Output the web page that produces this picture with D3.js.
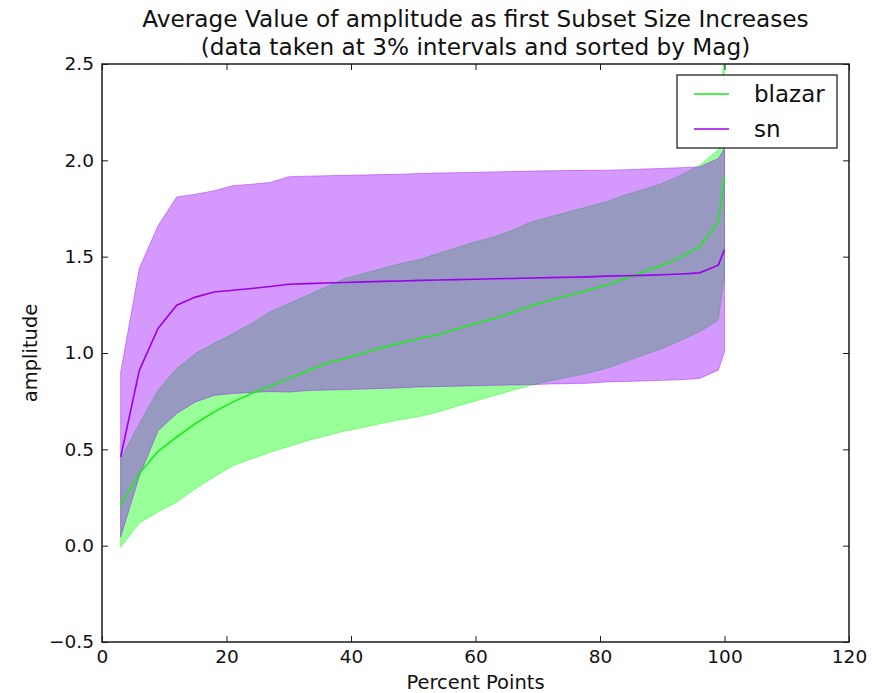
<!DOCTYPE html>
<html>
<head>
<meta charset="utf-8">
<script src="https://cdn.jsdelivr.net/npm/d3@7"></script>
<style>
  body { margin: 0; background: #fff; }
  svg { display: block; font-family: "DejaVu Sans", sans-serif; }
</style>
</head>
<body>
<div id="vis"></div>
<script>
const FRAME_WIDTH = 872;
const FRAME_HEIGHT = 693;
const MARGINS = {left: 102, right: 23, top: 64, bottom: 51};

// percent points where the data was taken
const pct = [3, 6, 9, 12, 15, 18, 21, 24, 27, 30, 33, 36, 39, 42, 45, 48, 51,
             54, 57, 60, 63, 66, 69, 72, 75, 78, 81, 84, 87, 90, 93, 96, 99, 100];

// blazar: mean and band
const blazarMean = [0.21, 0.374, 0.49, 0.564, 0.634, 0.694, 0.745, 0.79, 0.828, 0.867, 0.907, 0.945, 0.971, 1.0, 1.028, 1.052, 1.075,
                    1.095, 1.125, 1.153, 1.179, 1.21, 1.245, 1.274, 1.30, 1.326, 1.352, 1.387, 1.421, 1.456, 1.499, 1.551, 1.681, 1.914];
const blazarHi = [0.45, 0.634, 0.807, 0.92, 0.997, 1.05, 1.10, 1.153, 1.213, 1.257, 1.30, 1.343, 1.387, 1.413, 1.439, 1.465, 1.485,
                  1.517, 1.548, 1.577, 1.603, 1.638, 1.681, 1.707, 1.733, 1.759, 1.785, 1.82, 1.849, 1.88, 1.923, 1.975, 2.053, 2.62];
const blazarLo = [-0.007, 0.118, 0.175, 0.227, 0.296, 0.357, 0.415, 0.45, 0.485, 0.515, 0.545, 0.57, 0.595, 0.615, 0.635, 0.655, 0.67,
                  0.694, 0.724, 0.751, 0.78, 0.807, 0.833, 0.855, 0.875, 0.895, 0.92, 0.954, 0.989, 1.023, 1.066, 1.11, 1.17, 1.40];

// sn: mean and band
const snMean = [0.46, 0.91, 1.127, 1.248, 1.29, 1.317, 1.326, 1.335, 1.345, 1.357, 1.36, 1.363, 1.366, 1.369, 1.372, 1.374, 1.377,
                1.379, 1.381, 1.383, 1.385, 1.387, 1.389, 1.391, 1.393, 1.395, 1.399, 1.401, 1.403, 1.406, 1.41, 1.416, 1.456, 1.537];
const snHi = [0.90, 1.44, 1.66, 1.81, 1.824, 1.842, 1.868, 1.876, 1.885, 1.915, 1.918, 1.92, 1.922, 1.924, 1.926, 1.928, 1.932,
              1.934, 1.936, 1.938, 1.94, 1.942, 1.944, 1.946, 1.947, 1.948, 1.949, 1.951, 1.955, 1.958, 1.962, 1.966, 2.01, 2.06];
const snLo = [0.045, 0.36, 0.596, 0.686, 0.746, 0.78, 0.79, 0.795, 0.80, 0.797, 0.805, 0.808, 0.81, 0.813, 0.816, 0.819, 0.824,
              0.826, 0.828, 0.83, 0.832, 0.834, 0.836, 0.839, 0.841, 0.843, 0.85, 0.852, 0.855, 0.858, 0.861, 0.868, 0.911, 1.006];

const xTicks = [0, 20, 40, 60, 80, 100, 120];
const yTicks = [-0.5, 0.0, 0.5, 1.0, 1.5, 2.0, 2.5];

const seriesNames = ['blazar', 'sn'];
const lineColors = ['#1aee1a', '#9a00ee'];
const fillColors = ['#00ff00', '#9600fa'];

const VIS_WIDTH = FRAME_WIDTH - MARGINS.left - MARGINS.right;
const VIS_HEIGHT = FRAME_HEIGHT - MARGINS.top - MARGINS.bottom;

const FRAME = d3.select('#vis')
    .append('svg')
        .attr('width', FRAME_WIDTH)
        .attr('height', FRAME_HEIGHT);

const X_SCALE = d3.scaleLinear().domain([0, 120]).range([0, VIS_WIDTH]);
const Y_SCALE = d3.scaleLinear().domain([-0.5, 2.5]).range([VIS_HEIGHT, 0]);

const plot = FRAME.append('g')
    .attr('transform', 'translate(' + MARGINS.left + ',' + MARGINS.top + ')');

plot.append('clipPath').attr('id', 'clip')
    .append('rect').attr('width', VIS_WIDTH).attr('height', VIS_HEIGHT);

const marks = plot.append('g').attr('clip-path', 'url(#clip)');

const bands = [
    pct.map((p, i) => ({x: p, lo: blazarLo[i], hi: blazarHi[i]})),
    pct.map((p, i) => ({x: p, lo: snLo[i], hi: snHi[i]}))
];
const means = [
    pct.map((p, i) => ({x: p, y: blazarMean[i]})),
    pct.map((p, i) => ({x: p, y: snMean[i]}))
];

const area = d3.area()
    .x(d => X_SCALE(d.x))
    .y0(d => Y_SCALE(d.lo))
    .y1(d => Y_SCALE(d.hi));

const line = d3.line()
    .x(d => X_SCALE(d.x))
    .y(d => Y_SCALE(d.y));

// filled bands (blazar first, sn over it)
bands.forEach((b, i) => {
    marks.append('path')
        .datum(b)
        .attr('d', area)
        .attr('fill', fillColors[i])
        .attr('fill-opacity', 0.4)
        .attr('stroke', fillColors[i])
        .attr('stroke-opacity', 0.4)
        .attr('stroke-width', 1);
});

// mean lines
means.forEach((m, i) => {
    marks.append('path')
        .datum(m)
        .attr('d', line)
        .attr('fill', 'none')
        .attr('stroke', lineColors[i])
        .attr('stroke-width', 1.6);
});

// axes, ticks point inwards on all four sides
const axisColor = '#1a1a1a';
function styleAxis(g) {
    g.select('.domain').remove();
    g.selectAll('line').attr('stroke', axisColor).attr('stroke-width', 1);
    g.selectAll('text').attr('fill', '#111').attr('font-size', '18.5px')
        .attr('font-family', '"DejaVu Sans", sans-serif');
}

plot.append('g')
    .attr('transform', 'translate(0,' + VIS_HEIGHT + ')')
    .call(d3.axisBottom(X_SCALE).tickValues(xTicks).tickFormat(d3.format('d')).tickSize(-6).tickSizeOuter(0).tickPadding(8))
    .call(styleAxis);

plot.append('g')
    .call(d3.axisLeft(Y_SCALE).tickValues(yTicks).tickFormat(d => (d < 0 ? '\u2212' : '') + Math.abs(d).toFixed(1)).tickSize(-6).tickSizeOuter(0).tickPadding(8))
    .call(styleAxis);

plot.append('g')
    .call(d3.axisTop(X_SCALE).tickValues(xTicks).tickFormat('').tickSize(-6).tickSizeOuter(0))
    .call(styleAxis);

plot.append('g')
    .attr('transform', 'translate(' + VIS_WIDTH + ',0)')
    .call(d3.axisRight(Y_SCALE).tickValues(yTicks).tickFormat('').tickSize(-6).tickSizeOuter(0))
    .call(styleAxis);

// frame
plot.append('rect')
    .attr('width', VIS_WIDTH)
    .attr('height', VIS_HEIGHT)
    .attr('fill', 'none')
    .attr('stroke', axisColor)
    .attr('stroke-width', 1.5);

// title
const title = FRAME.append('text')
    .attr('text-anchor', 'middle')
    .attr('font-size', '23.2px')
    .attr('fill', '#111');
title.append('tspan').attr('x', MARGINS.left + VIS_WIDTH / 2).attr('y', 27)
    .text('Average Value of amplitude as first Subset Size Increases');
title.append('tspan').attr('x', MARGINS.left + VIS_WIDTH / 2).attr('y', 55)
    .text('(data taken at 3% intervals and sorted by Mag)');

// axis labels
FRAME.append('text')
    .attr('x', MARGINS.left + VIS_WIDTH / 2)
    .attr('y', 689)
    .attr('text-anchor', 'middle')
    .attr('font-size', '19.5px')
    .attr('fill', '#111')
    .text('Percent Points');

FRAME.append('text')
    .attr('transform', 'translate(37,' + (MARGINS.top + VIS_HEIGHT / 2) + ') rotate(-90)')
    .attr('text-anchor', 'middle')
    .attr('font-size', '19.5px')
    .attr('fill', '#111')
    .text('amplitude');

// legend
const legend = FRAME.append('g').attr('transform', 'translate(677,75)');
legend.append('rect')
    .attr('width', 160)
    .attr('height', 73)
    .attr('fill', '#fff')
    .attr('stroke', '#111')
    .attr('stroke-width', 1.2);

seriesNames.forEach((name, i) => {
    const y = 19 + i * 35;
    legend.append('line')
        .attr('x1', 17).attr('x2', 52)
        .attr('y1', y).attr('y2', y)
        .attr('stroke', lineColors[i])
        .attr('stroke-width', 1.6);
    legend.append('text')
        .attr('x', 77)
        .attr('y', y + 8)
        .attr('font-size', '23px')
        .attr('fill', '#111')
        .text(name);
});
</script>
</body>
</html>
